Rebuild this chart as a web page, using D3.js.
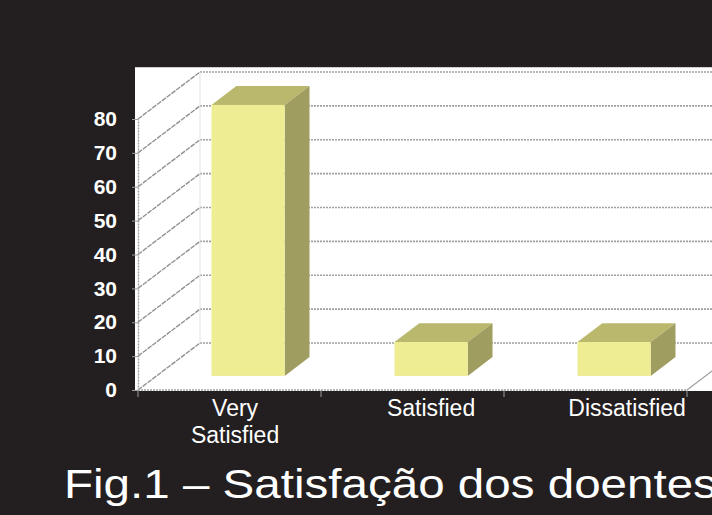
<!DOCTYPE html>
<html>
<head>
<meta charset="utf-8">
<script src="https://cdn.jsdelivr.net/npm/d3@7"></script>
<style>
  body { margin: 0; background: #231f20; }
  svg { display: block; }
</style>
</head>
<body>
<div id="chart"></div>
<script>
// Data
const categories = ["Very Satisfied", "Satisfied", "Dissatisfied"];
const categoryLines = [["Very", "Satisfied"], ["Satisfied"], ["Dissatisfied"]];
const values = [80, 10, 10];
const yTicks = [0, 10, 20, 30, 40, 50, 60, 70, 80];
const caption = "Fig.1 \u2013 Satisfa\u00e7\u00e3o dos doentes";

// Layout variables
const width = 712, height = 515;
const plotBox = { left: 135, top: 67, right: 712, bottom: 391 };
const depth = { dx: 62, dy: -47 };     // full depth of the 3D walls
const barDepthStart = 0.3, barDepthSize = 0.4, barWidthFrac = 0.4;
const colors = { bg: "#231f20", front: "#efed93", top: "#bab86d", side: "#9f9d60", grid: "#a0a0a0" };

const svg = d3.select("#chart").append("svg")
  .attr("width", width)
  .attr("height", height)
  .style("font-family", "'Liberation Sans', Arial, sans-serif");

svg.append("rect").attr("width", width).attr("height", height).attr("fill", colors.bg);

// Scales
const x = d3.scaleBand()
  .domain(categories)
  .range([138, 687])
  .padding(0);

const y = d3.scaleLinear()
  .domain([0, 80])
  .range([390, 119]);

// White plot area
svg.append("rect")
  .attr("x", plotBox.left)
  .attr("y", plotBox.top)
  .attr("width", plotBox.right - plotBox.left)
  .attr("height", plotBox.bottom - plotBox.top)
  .attr("fill", "#fff");

svg.append("line")
  .attr("x1", plotBox.left).attr("x2", plotBox.right)
  .attr("y1", plotBox.top + 0.5).attr("y2", plotBox.top + 0.5)
  .attr("stroke", "#cfcfcf");

const x0 = x.range()[0], x1 = x.range()[1];

// (A) Back wall gridlines and left wall diagonals
const grid = svg.append("g").attr("stroke", colors.grid).attr("fill", "none");
grid.selectAll(".back-grid")
  .data(yTicks)
  .enter().append("line")
  .attr("x1", x0 + depth.dx)
  .attr("x2", x1 + depth.dx)
  .attr("y1", d => y(d) + depth.dy)
  .attr("y2", d => y(d) + depth.dy)
  .attr("stroke-width", 1.6)
  .attr("stroke-dasharray", "2,1");

grid.selectAll(".side-grid")
  .data(yTicks)
  .enter().append("line")
  .attr("x1", x0)
  .attr("y1", d => y(d))
  .attr("x2", x0 + depth.dx)
  .attr("y2", d => y(d) + depth.dy)
  .attr("stroke-width", 1.3)
  .attr("stroke-dasharray", "5,1")
  .attr("stroke", "#8e8e8e");

// back left edge
grid.append("line")
  .attr("x1", x0 + depth.dx).attr("x2", x0 + depth.dx)
  .attr("y1", y(0) + depth.dy).attr("y2", y(80) + depth.dy)
  .attr("stroke", "#e2e2e2");

// floor edges
grid.append("line")
  .attr("x1", x0).attr("x2", x1)
  .attr("y1", y(0)).attr("y2", y(0))
  .attr("stroke-width", 1.6)
  .attr("stroke-dasharray", "2,1");
grid.append("line")
  .attr("x1", x1).attr("y1", y(0))
  .attr("x2", x1 + depth.dx).attr("y2", y(0) + depth.dy)
  .attr("stroke-width", 1.2);

// (B) Y axis
const yAxisG = svg.append("g")
  .attr("transform", `translate(${x0},0)`)
  .call(d3.axisLeft(y).tickValues(yTicks).tickSizeInner(6).tickSizeOuter(0).tickPadding(15));
yAxisG.select(".domain").attr("stroke", colors.grid).attr("stroke-dasharray", "2,1").attr("stroke-width", 1.4);
yAxisG.selectAll(".tick line").attr("stroke", "#9a9a9a");
yAxisG.selectAll("text")
  .attr("fill", "#fff")
  .style("font-size", "21px")
  .style("font-weight", "bold")
  .style("font-family", "'Liberation Sans', Arial, sans-serif");

// category ticks
svg.selectAll(".cat-tick")
  .data(categories)
  .enter().append("line")
  .attr("x1", d => x(d) + x.bandwidth())
  .attr("x2", d => x(d) + x.bandwidth())
  .attr("y1", y(0))
  .attr("y2", y(0) + 7)
  .attr("stroke", "#9a9a9a");
svg.append("line")
  .attr("x1", x0).attr("x2", x0).attr("y1", y(0)).attr("y2", y(0) + 7)
  .attr("stroke", "#9a9a9a");

// (C) 3D bars
const offX = depth.dx * barDepthStart, offY = depth.dy * barDepthStart;
const bdx = depth.dx * barDepthSize, bdy = depth.dy * barDepthSize;
const barW = x.bandwidth() * barWidthFrac;
const barData = categories.map((c, i) => {
  const left = x(c) + (x.bandwidth() - barW) / 2 + offX;
  return { cat: c, left, right: left + barW, top: y(values[i]) + offY, bottom: y(0) + offY };
});

const bars = svg.selectAll(".bar")
  .data(barData)
  .enter().append("g")
  .attr("class", "bar");

bars.append("polygon")
  .attr("fill", colors.top)
  .attr("points", d => [
    [d.left, d.top], [d.right, d.top], [d.right + bdx, d.top + bdy], [d.left + bdx, d.top + bdy]
  ].join(" "));

bars.append("polygon")
  .attr("fill", colors.side)
  .attr("points", d => [
    [d.right, d.top], [d.right + bdx, d.top + bdy], [d.right + bdx, d.bottom + bdy], [d.right, d.bottom]
  ].join(" "));

bars.append("rect")
  .attr("fill", colors.front)
  .attr("x", d => d.left)
  .attr("y", d => d.top)
  .attr("width", barW)
  .attr("height", d => d.bottom - d.top);

// (D) Category labels
const labels = svg.selectAll(".cat-label")
  .data(categories)
  .enter().append("text")
  .attr("class", "cat-label")
  .attr("text-anchor", "middle")
  .attr("fill", "#fff")
  .style("font-size", "23px")
  .attr("y", 416);

const labelShift = [-13, 0, 13];
labels.each(function(d, i) {
  const cx = x(d) + x.bandwidth() / 2 + offX + labelShift[i];
  categoryLines[i].forEach((line, j) => {
    d3.select(this).append("tspan")
      .attr("x", cx)
      .attr("dy", j === 0 ? 0 : 27)
      .text(line);
  });
});

// Caption (slightly stretched horizontally, as in the slide)
svg.append("text")
  .attr("transform", "translate(64,498) scale(1.16,1)")
  .attr("fill", "#fff")
  .style("font-size", "41px")
  .text(caption);
</script>
</body>
</html>
